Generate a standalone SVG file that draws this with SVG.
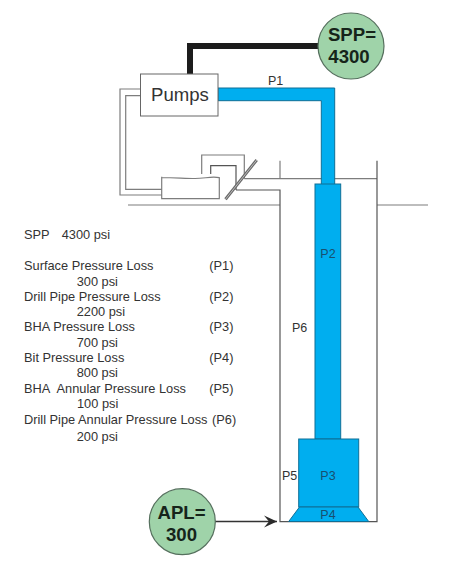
<svg xmlns="http://www.w3.org/2000/svg" width="474" height="572" viewBox="0 0 474 572">
<style>
text{font-family:"Liberation Sans",Arial,sans-serif;fill:#333}
.t{font-size:12.8px}
.l{font-size:12.5px}
.b{font-size:18.6px;font-weight:bold;fill:#16241a;text-anchor:middle}
.p{font-size:12.5px;fill:#17506f;text-anchor:middle}
.g{fill:none;stroke:#7d7d7d;stroke-width:1.2}
.d{fill:none;stroke:#555;stroke-width:1.2}
.blue{fill:#00aeef;stroke:#0f6e96;stroke-width:1}
.c{fill:#9fd3a9;stroke:#56705e;stroke-width:1.2}
</style>
<defs>
<marker id="arr" markerUnits="userSpaceOnUse" markerWidth="20" markerHeight="16" refX="17" refY="7" orient="auto">
<path d="M4 1L17 7L4 13L9 7Z" fill="#2a2a2a"/>
</marker>
</defs>
<g id="connectors">
<path d="M190 74V46H320" fill="none" stroke="#1c1c1c" stroke-width="6"/>
<path d="M215 521.5H277" fill="none" stroke="#333" stroke-width="1.4" marker-end="url(#arr)"/>
<path class="g" d="M140 89H120V195H162"/>
<path class="g" d="M140 95.7H125.7V189.3H162"/>
<path class="g" d="M201.7 174V155H244.3V178.7"/>
<path class="d" d="M210.7 174V165.7H236V190"/>
</g>
<g id="ground">
<path class="g" d="M128 205H280"/>
<path class="g" d="M377 205H428"/>
<path class="g" d="M244.3 178.7H377"/>
<path class="g" d="M280 160.7V178.7"/>
<path class="d" d="M236 190H280V521.7H377V160.7"/>
</g>
<g id="tank">
<path class="g" d="M161.7 176.7V198.7H219.3V177.7C212 176 205 178.500 195 178.500C185 178.500 175 177.500 161.700 177.500"/>
</g>
<g id="valve">
<path d="M225.5 199.3L256.7 160" fill="none" stroke="#6a6a6a" stroke-width="3"/>
<path d="M225.5 199.3L256.7 160" fill="none" stroke="#cfcfcf" stroke-width="0.8"/>
</g>
<g id="pipe">
<path class="blue" d="M218 88H334.7V184.5H321.3V100.7H218Z"/>
<text x="268" y="85" style="font-size:12.5px">P1</text>
</g>
<g id="drill-string">
<rect class="blue" x="315" y="184" width="25.7" height="255"/>
<text class="p" x="328" y="258">P2</text>
</g>
<g id="bha">
<rect class="blue" x="298.7" y="439" width="60" height="68"/>
<text class="p" x="328" y="480">P3</text>
</g>
<g id="bit">
<path class="blue" d="M299.5 507H358L368.7 521.500H288.700Z"/>
<text class="p" x="328" y="518.5">P4</text>
</g>
<g id="pumps">
<rect x="140.5" y="74" width="77.5" height="42" fill="#fff" stroke="#666" stroke-width="1"/>
<text x="151" y="100.7" style="font-size:18.6px">Pumps</text>
</g>
<g id="spp">
<circle class="c" cx="351" cy="46" r="33"/>
<text class="b" x="352" y="40.7">SPP=</text>
<text class="b" x="349" y="63.3">4300</text>
</g>
<g id="apl">
<circle class="c" cx="182.3" cy="521.7" r="33"/>
<text class="b" x="181.5" y="518.7">APL=</text>
<text class="b" x="181.5" y="541">300</text>
</g>
<g id="annulus-labels">
<text class="l" x="292" y="332">P6</text>
<text class="l" x="282" y="480">P5</text>
</g>
<g id="legend">
<text class="t" x="24" y="239">SPP</text><text class="t" x="61.7" y="239">4300 psi</text>
<text class="t" x="24" y="270">Surface Pressure Loss</text><text class="t" x="209.3" y="270">(P1)</text>
<text class="t" x="76.7" y="285.5">300 psi</text>
<text class="t" x="24" y="300.7">Drill Pipe Pressure Loss</text><text class="t" x="209.3" y="300.7">(P2)</text>
<text class="t" x="76.7" y="316">2200 psi</text>
<text class="t" x="24" y="331.3">BHA Pressure Loss</text><text class="t" x="209.3" y="331.3">(P3)</text>
<text class="t" x="76.7" y="347">700 psi</text>
<text class="t" x="24" y="362">Bit Pressure Loss</text><text class="t" x="209.3" y="362">(P4)</text>
<text class="t" x="76.7" y="377.3">800 psi</text>
<text class="t" x="24" y="393">BHA</text><text class="t" x="56.500" y="393">Annular Pressure Loss</text><text class="t" x="209.3" y="393">(P5)</text>
<text class="t" x="77" y="408.3">100 psi</text>
<text class="t" x="24" y="423.7">Drill Pipe Annular Pressure Loss</text><text class="t" x="212" y="423.7">(P6)</text>
<text class="t" x="76.7" y="441">200 psi</text>
</g>
</svg>
